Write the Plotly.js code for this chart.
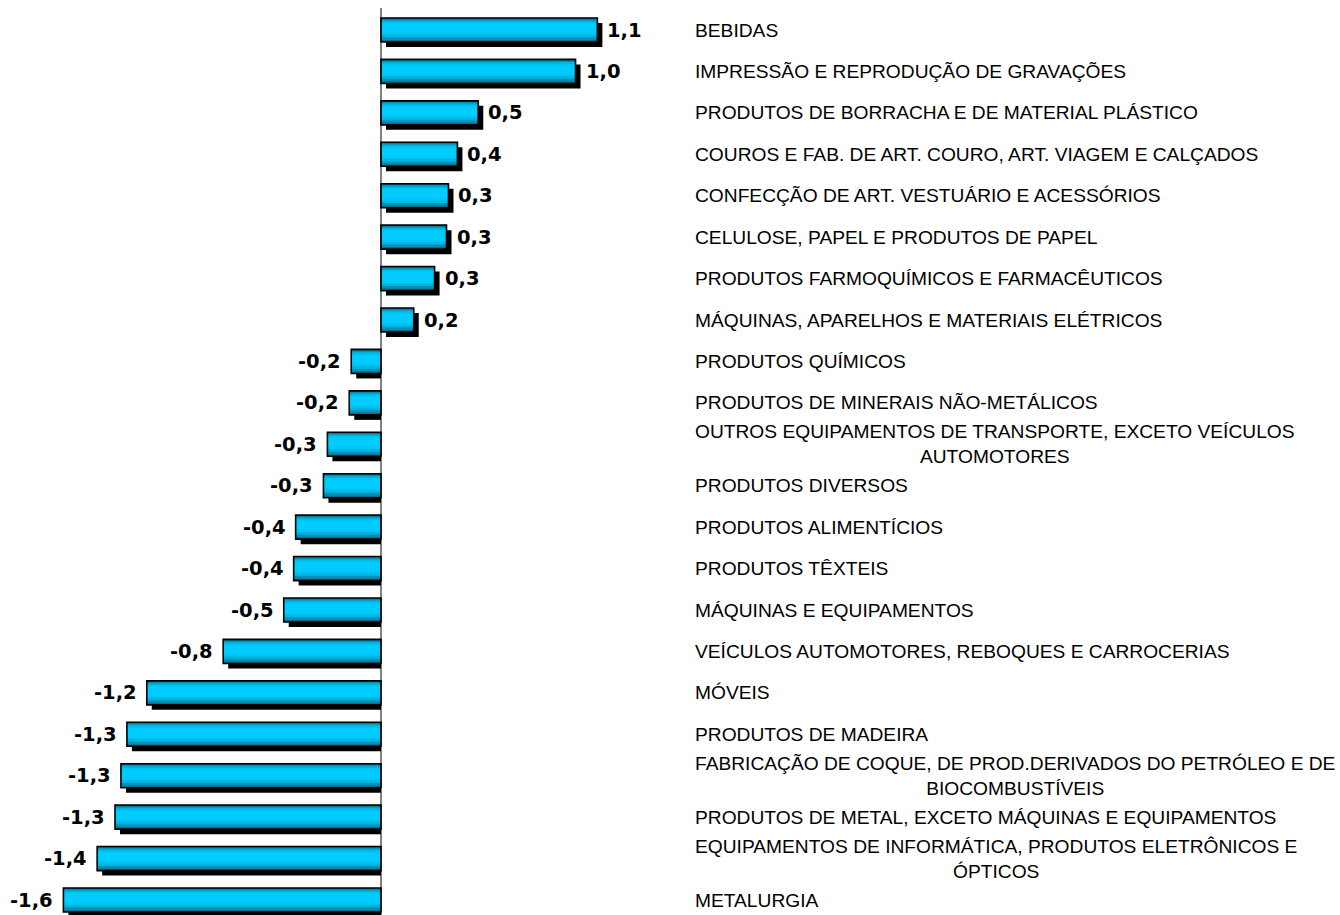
<!DOCTYPE html>
<html>
<head>
<meta charset="utf-8">
<script src="https://cdn.plot.ly/plotly-3.0.1.min.js"></script>
<style>
html,body{margin:0;padding:0;background:#fff;}
#chart{width:1340px;height:915px;}
</style>
</head>
<body>
<div id="chart"></div>
<script>
const categories = [
  "BEBIDAS",
  "IMPRESSÃO E REPRODUÇÃO DE GRAVAÇÕES",
  "PRODUTOS DE BORRACHA E DE MATERIAL PLÁSTICO",
  "COUROS E FAB. DE ART. COURO, ART. VIAGEM E CALÇADOS",
  "CONFECÇÃO DE ART. VESTUÁRIO E ACESSÓRIOS",
  "CELULOSE, PAPEL E PRODUTOS DE PAPEL",
  "PRODUTOS FARMOQUÍMICOS E FARMACÊUTICOS",
  "MÁQUINAS, APARELHOS E MATERIAIS ELÉTRICOS",
  "PRODUTOS QUÍMICOS",
  "PRODUTOS DE MINERAIS NÃO-METÁLICOS",
  "OUTROS EQUIPAMENTOS DE TRANSPORTE, EXCETO VEÍCULOS<br>AUTOMOTORES",
  "PRODUTOS DIVERSOS",
  "PRODUTOS ALIMENTÍCIOS",
  "PRODUTOS TÊXTEIS",
  "MÁQUINAS E EQUIPAMENTOS",
  "VEÍCULOS AUTOMOTORES, REBOQUES E CARROCERIAS",
  "MÓVEIS",
  "PRODUTOS DE MADEIRA",
  "FABRICAÇÃO DE COQUE, DE PROD.DERIVADOS DO PETRÓLEO E DE<br>BIOCOMBUSTÍVEIS",
  "PRODUTOS DE METAL, EXCETO MÁQUINAS E EQUIPAMENTOS",
  "EQUIPAMENTOS DE INFORMÁTICA, PRODUTOS ELETRÔNICOS E<br>ÓPTICOS",
  "METALURGIA"
];
const values = [1.09, 0.98, 0.49, 0.385, 0.34, 0.33, 0.27, 0.165, -0.15, -0.16, -0.27, -0.29, -0.43, -0.44, -0.49, -0.795, -1.18, -1.28, -1.31, -1.34, -1.43, -1.60];
const valueLabels = ["1,1","1,0","0,5","0,4","0,3","0,3","0,3","0,2","-0,2","-0,2","-0,3","-0,3","-0,4","-0,4","-0,5","-0,8","-1,2","-1,3","-1,3","-1,3","-1,4","-1,6"];

const idx = categories.map((c, i) => i);
const pxPerUnit = 198.5;
const rowPx = 41.43;
const shX = 5 / pxPerUnit;
const shY = 5 / rowPx;
const BW = 0.58;

const traces = [];
// shadow
traces.push({
  type: 'bar', orientation: 'h',
  y: idx.map(i => i + shY),
  x: values.map(v => v >= 0 ? v : -(v + shX)),
  base: values.map(v => v >= 0 ? shX : v + shX),
  width: BW,
  marker: {color: '#000000', line: {width: 0}},
  hoverinfo: 'skip', showlegend: false
});
// gradient layers
const layers = [
  {w: BW, dy: 0, c: '#0a6d8a'},
  {w: BW * 0.86, dy: -0.01, c: '#0391b8'},
  {w: BW * 0.70, dy: -0.025, c: '#00b3e0'},
  {w: BW * 0.52, dy: -0.035, c: '#00c6f5'},
  {w: BW * 0.34, dy: -0.04, c: '#00ccff'}
];
layers.forEach(L => {
  traces.push({
    type: 'bar', orientation: 'h',
    y: idx.map(i => i + L.dy),
    x: values,
    width: L.w,
    marker: {color: L.c, line: {width: 0}},
    hoverinfo: 'skip', showlegend: false
  });
});
// outline
traces.push({
  type: 'bar', orientation: 'h',
  y: idx, x: values, width: BW,
  marker: {color: 'rgba(0,0,0,0)', line: {color: '#000000', width: 1.6}},
  hoverinfo: 'skip', showlegend: false
});

const annotations = [];
values.forEach((v, i) => {
  annotations.push({
    x: v, y: i, xref: 'x', yref: 'y',
    text: valueLabels[i], showarrow: false,
    xanchor: v >= 0 ? 'left' : 'right', yanchor: 'middle',
    xshift: v >= 0 ? 8 : -8,
    font: {family: 'DejaVu Sans', size: 19.5, color: '#000000', weight: 'bold'}
  });
  annotations.push({
    x: 693 / 1340, y: i, xref: 'paper', yref: 'y',
    text: categories[i], showarrow: false,
    xanchor: 'left', yanchor: 'middle', align: 'center',
    font: {family: '"Liberation Sans", Arial, sans-serif', size: 19.2, color: '#000000'}
  });
});

const layout = {
  width: 1340, height: 915,
  margin: {l: 0, r: 0, t: 8, b: 0},
  paper_bgcolor: '#ffffff', plot_bgcolor: '#ffffff',
  barmode: 'overlay',
  showlegend: false,
  xaxis: {
    range: [-381 / pxPerUnit, (1340 - 381) / pxPerUnit],
    showgrid: false, zeroline: false, showticklabels: false, ticks: '', showline: false, fixedrange: true
  },
  yaxis: {
    range: [idx.length - 1 + (915 - 900) / rowPx, -(30 - 8) / rowPx],
    showgrid: false, zeroline: false, showticklabels: false, ticks: '', showline: false, fixedrange: true
  },
  shapes: [{
    type: 'line', xref: 'x', yref: 'paper', x0: 0, x1: 0, y0: 0, y1: 1,
    line: {color: '#000000', width: 1}, layer: 'above'
  }],
  annotations: annotations
};

Plotly.newPlot('chart', traces, layout, {displayModeBar: false, staticPlot: true});
</script>
</body>
</html>
